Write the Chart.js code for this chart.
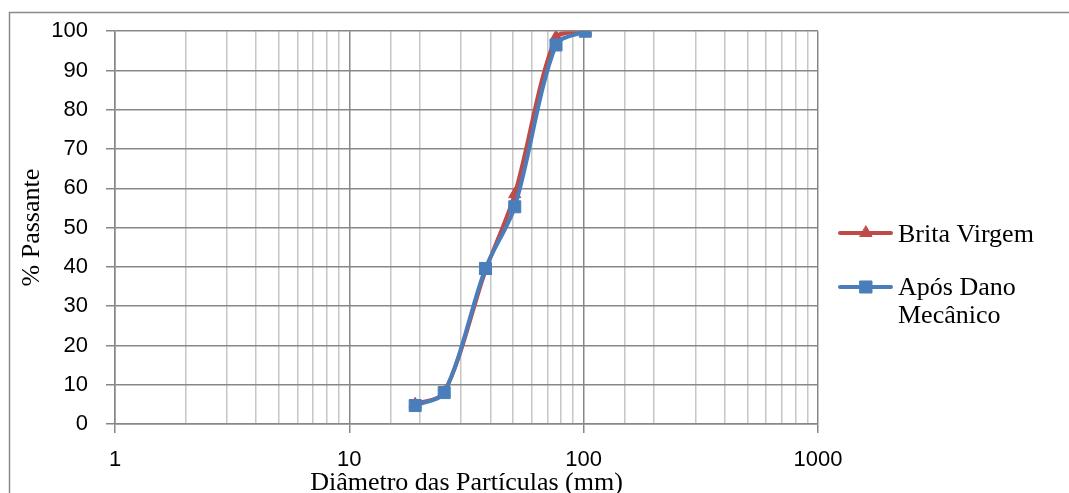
<!DOCTYPE html>
<html>
<head>
<meta charset="utf-8">
<script src="https://cdn.jsdelivr.net/npm/chart.js@4"></script>
<style>
  html, body { margin: 0; padding: 0; background: #fff; }
  #wrap { width: 1069px; height: 493px; }
</style>
</head>
<body>
<div id="wrap"><canvas id="curve" width="1069" height="493"></canvas></div>
<script>
// sieve openings (mm) and % passing
const diameters = [19.1, 25.4, 38.1, 50.8, 76.2, 101.6];
const britaVirgem = [5, 8, 39, 58.5, 98.5, 100];
const aposDano = [4.7, 8, 39.6, 55.3, 96.5, 100];
const seriesNames = ['Brita Virgem', ['Após Dano', 'Mecânico']];
const xTickLabels = [1, 10, 100, 1000];
const yTickLabels = [0, 10, 20, 30, 40, 50, 60, 70, 80, 90, 100];

const RED = '#BE4B48';
const BLUE = '#4A7EBB';
const GRID_MAJOR = '#878787';
const GRID_MINOR = '#c6c6c6';
const serif = '"Liberation Serif", "Times New Roman", serif';
const sans = '"Liberation Sans", Arial, sans-serif';

function points(ys) {
    return diameters.map((d, i) => ({ x: d, y: ys[i] }));
}

function isDecade(v) {
    return xTickLabels.includes(Math.round(v));
}

//outer frame, only top and left edges are visible in the picture
const framePlugin = {
    id: 'frame',
    beforeDraw(chart) {
        const ctx = chart.ctx;
        ctx.save();
        ctx.strokeStyle = '#8a8a8a';
        ctx.lineWidth = 1.5;
        ctx.beginPath();
        ctx.moveTo(9.5, chart.height);
        ctx.lineTo(9.5, 12.5);
        ctx.lineTo(chart.width, 12.5);
        ctx.stroke();
        ctx.restore();
    }
};

//legend on the right, with a two line label for the second series
const sideLegend = {
    id: 'sideLegend',
    afterDraw(chart) {
        const ctx = chart.ctx;
        const rows = [{ y: 233, base: [242] }, { y: 287, base: [295, 323] }];
        ctx.save();
        chart.data.datasets.forEach((ds, i) => {
            const r = rows[i];
            ctx.strokeStyle = ds.borderColor;
            ctx.lineWidth = 4;
            ctx.lineCap = 'round';
            ctx.beginPath();
            ctx.moveTo(840, r.y);
            ctx.lineTo(891, r.y);
            ctx.stroke();
            ctx.fillStyle = ds.backgroundColor;
            ctx.strokeStyle = ds.borderColor;
            ctx.lineWidth = 1;
            Chart.helpers.drawPoint(ctx, { pointStyle: ds.pointStyle, radius: ds.pointRadius, borderWidth: 1 }, 866, r.y);
            ctx.fillStyle = '#000';
            ctx.font = '26px ' + serif;
            ctx.textBaseline = 'alphabetic';
            ctx.textAlign = 'left';
            const lines = Array.isArray(seriesNames[i]) ? seriesNames[i] : [seriesNames[i]];
            lines.forEach((t, k) => ctx.fillText(t, 898, r.base[k]));
        });
        ctx.restore();
    }
};

new Chart(document.getElementById('curve'), {
    type: 'line',
    plugins: [framePlugin, sideLegend],
    data: {
        datasets: [
            {
                label: 'Brita Virgem',
                data: points(britaVirgem),
                borderColor: RED,
                backgroundColor: RED,
                borderWidth: 4,
                pointStyle: 'triangle',
                pointRadius: 7,
                pointBorderWidth: 1,
                tension: 0.3,
                order: 1, // drawn first, blue sits on top
            },
            {
                label: 'Após Dano Mecânico',
                data: points(aposDano),
                borderColor: BLUE,
                backgroundColor: BLUE,
                borderWidth: 4,
                pointStyle: 'rect',
                pointRadius: 8.5,
                pointBorderWidth: 1,
                tension: 0.3,
                order: 0,
            },
        ],
    },
    options: {
        responsive: false,
        animation: false,
        layout: { padding: { left: 0, top: 30, right: 251, bottom: 0 } },
        plugins: {
            legend: { display: false },
            tooltip: { enabled: false },
        },
        scales: {
            x: {
                type: 'logarithmic',
                min: 1,
                max: 1000,
                afterFit(scale) { scale.height = 69; },
                border: { color: GRID_MAJOR, width: 1.5 },
                grid: {
                    lineWidth: 1.5,
                    tickLength: 9,
                    color: (c) => isDecade(c.tick.value) ? GRID_MAJOR : GRID_MINOR,
                    tickColor: (c) => isDecade(c.tick.value) ? GRID_MAJOR : 'rgba(0,0,0,0)',
                },
                ticks: {
                    autoSkip: false,
                    maxRotation: 0,
                    padding: 14,
                    color: '#000',
                    font: { family: sans, size: 22 },
                    callback: (v) => isDecade(v) ? String(Math.round(v)) : '',
                },
                title: {
                    display: true,
                    text: 'Diâmetro das Partículas (mm)',
                    color: '#000',
                    font: { family: serif, size: 26, lineHeight: 1 },
                    padding: { top: 0, bottom: -3 },
                },
            },
            y: {
                min: 0,
                max: 100,
                afterFit(scale) { scale.width = 115; },
                border: { color: GRID_MAJOR, width: 1.5 },
                grid: {
                    lineWidth: 1.5,
                    tickLength: 9,
                    color: GRID_MAJOR,
                },
                ticks: {
                    stepSize: 10,
                    padding: 18,
                    color: '#000',
                    font: { family: sans, size: 22 },
                    callback: (v) => yTickLabels.includes(v) ? String(v) : '',
                },
                title: {
                    display: true,
                    text: '% Passante',
                    color: '#000',
                    font: { family: serif, size: 26, lineHeight: 1 },
                    padding: { top: 19, bottom: 0 },
                },
            },
        },
    },
});
</script>
</body>
</html>
